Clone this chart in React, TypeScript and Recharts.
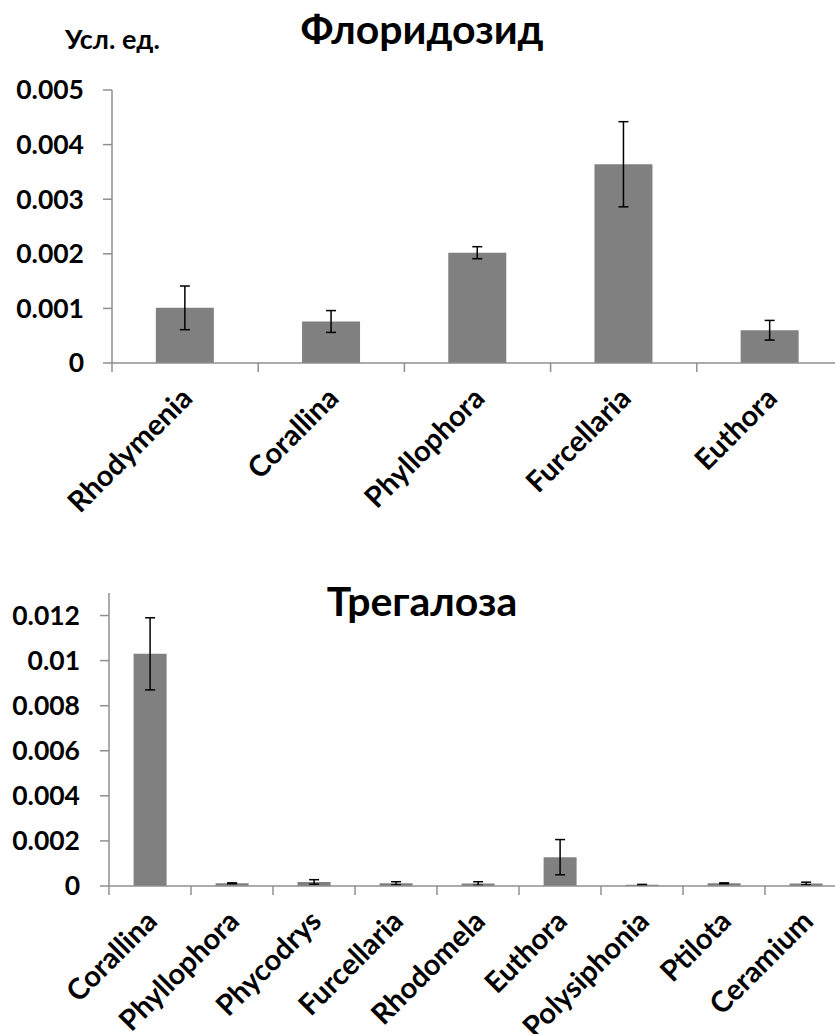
import { Bar, BarChart, ErrorBar, XAxis, YAxis } from "recharts";

const AXIS = "#8f8f8f";
const BAR = "#808080";
const FONT = "Lato, 'Open Sans', sans-serif";

// Флоридозид
const floridCats = ["Rhodymenia", "Corallina", "Phyllophora", "Furcellaria", "Euthora"];
const floridValues = [0.00101, 0.00076, 0.00202, 0.00364, 0.0006];
const floridErrors = [0.0004, 0.0002, 0.00011, 0.00078, 0.00018];
const floridTicks = [0, 0.001, 0.002, 0.003, 0.004, 0.005];

// Трегалоза
const trehCats = [
  "Corallina",
  "Phyllophora",
  "Phycodrys",
  "Furcellaria",
  "Rhodomela",
  "Euthora",
  "Polysiphonia",
  "Ptilota",
  "Ceramium",
];
const trehValues = [0.0103, 0.00012, 0.00018, 0.00012, 0.00011, 0.00128, 0.00005, 0.00012, 0.00011];
const trehErrors = [0.0016, 0.00002, 0.0001, 0.00007, 0.00008, 0.00078, 0.00002, 0.00002, 0.00006];
const trehTicks = [0, 0.002, 0.004, 0.006, 0.008, 0.01, 0.012];

const floridData = floridCats.map((name, i) => ({ name, value: floridValues[i], err: floridErrors[i] }));
const trehData = trehCats.map((name, i) => ({ name, value: trehValues[i], err: trehErrors[i] }));

// category label rotated -45deg, plus a tick mark on the left edge of the band
function CatTick(props: any) {
  const { x, y, payload } = props;
  const half = payload?.offset ?? 0;
  const ax = x + 9;
  const ay = y + 37;
  return (
    <g>
      <line x1={x - half} y1={y} x2={x - half} y2={y + 9} stroke={AXIS} strokeWidth={1.5} />
      <text
        x={ax}
        y={ay}
        transform={`rotate(-45 ${ax} ${ay})`}
        textAnchor="end"
        fill="#000"
        style={{ fontFamily: FONT, fontSize: 29, fontWeight: 700 }}
      >
        {payload.value}
      </text>
    </g>
  );
}

const yTickStyle = { fill: "#000", fontFamily: FONT, fontSize: 26.5, fontWeight: 700 };

function ErrBars() {
  return (
    <ErrorBar
      dataKey="err"
      direction="y"
      width={5}
      stroke="#000"
      strokeWidth={1.5}
      isAnimationActive={false}
    />
  );
}

export default function App() {
  return (
    <div
      style={{
        position: "fixed",
        left: 0,
        top: 0,
        width: 835,
        height: 1034,
        overflow: "hidden",
        background: "#fff",
      }}
    >
      <div style={{ position: "absolute", left: 0, top: 0 }}>
        <BarChart
          width={860}
          height={523}
          data={floridData}
          margin={{ top: 90, right: 17, left: 0, bottom: 0 }}
          barCategoryGap="30%"
        >
          <XAxis
            dataKey="name"
            interval={0}
            height={160}
            axisLine={{ stroke: AXIS, strokeWidth: 1.5 }}
            tickLine={false}
            tickSize={0}
            tickMargin={0}
            tick={<CatTick />}
          />
          <YAxis
            width={112}
            domain={[0, 0.005]}
            ticks={floridTicks}
            interval={0}
            axisLine={{ stroke: AXIS, strokeWidth: 1.5 }}
            tickLine={{ stroke: AXIS, strokeWidth: 1.5 }}
            tickSize={9}
            tickMargin={19}
            tick={yTickStyle}
            tickFormatter={(v: number) => String(v)}
          />
          <Bar dataKey="value" fill={BAR} isAnimationActive={false}>
            {ErrBars()}
          </Bar>
        </BarChart>
      </div>

      <div style={{ position: "absolute", left: 0, top: 560 }}>
        <BarChart
          width={860}
          height={474}
          data={trehData}
          margin={{ top: 33, right: 13, left: 0, bottom: 0 }}
          barCategoryGap="30%"
        >
          <XAxis
            dataKey="name"
            interval={0}
            height={148}
            axisLine={{ stroke: AXIS, strokeWidth: 1.5 }}
            tickLine={false}
            tickSize={0}
            tickMargin={0}
            tick={<CatTick />}
          />
          <YAxis
            width={109}
            domain={[0, 0.013]}
            ticks={trehTicks}
            interval={0}
            axisLine={{ stroke: AXIS, strokeWidth: 1.5 }}
            tickLine={{ stroke: AXIS, strokeWidth: 1.5 }}
            tickSize={9}
            tickMargin={20}
            tick={yTickStyle}
            tickFormatter={(v: number) => String(v)}
          />
          <Bar dataKey="value" fill={BAR} isAnimationActive={false}>
            {ErrBars()}
          </Bar>
        </BarChart>
      </div>

      <svg
        width={835}
        height={1034}
        style={{ position: "absolute", left: 0, top: 0, pointerEvents: "none" }}
      >
        <text x={65} y={49} style={{ fontFamily: FONT, fontSize: 27, fontWeight: 700 }}>
          Усл. ед.
        </text>
        <text x={422} y={44} textAnchor="middle" style={{ fontFamily: FONT, fontSize: 41, fontWeight: 700 }}>
          Флоридозид
        </text>
        <text x={422} y={616} textAnchor="middle" style={{ fontFamily: FONT, fontSize: 41, fontWeight: 700 }}>
          Трегалоза
        </text>
      </svg>
    </div>
  );
}
